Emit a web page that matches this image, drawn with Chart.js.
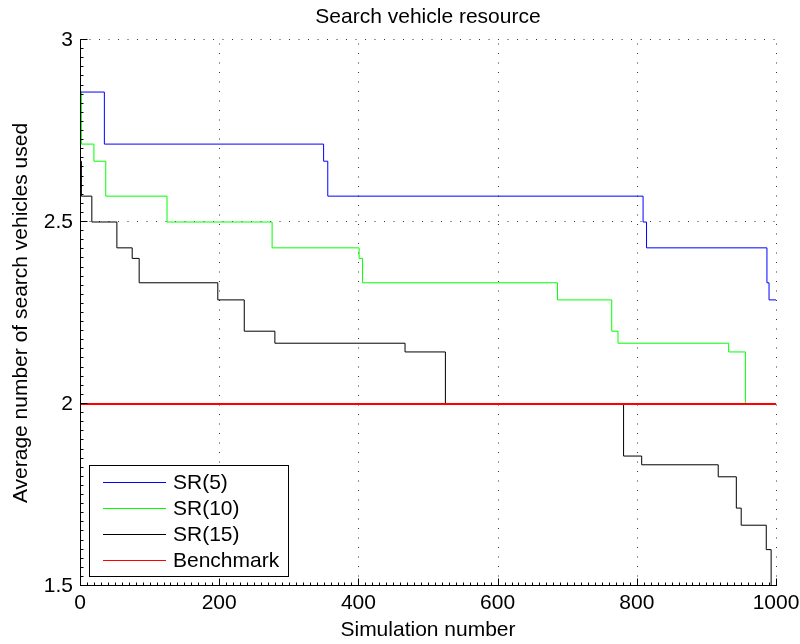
<!DOCTYPE html>
<html>
<head>
<meta charset="utf-8">
<script src="https://cdn.jsdelivr.net/npm/chart.js@4.4.1/dist/chart.umd.min.js"></script>
<style>
  html, body { margin: 0; padding: 0; background: #fff; }
  #wrap { width: 800px; height: 644px; }
</style>
</head>
<body>
<div id="wrap"><canvas id="c" width="800" height="644"></canvas></div>
<script>
// Tick labels
const xTicks = [0, 200, 400, 600, 800, 1000];
const yTicks = [1.5, 2, 2.5, 3];

// Step series: simulation number where the average changes, and the new average
const sr5Sim  = [0, 35, 350, 356, 809, 814, 987, 990, 1000];
const sr5Avg  = [2.857, 2.714, 2.667, 2.571, 2.5, 2.429, 2.333, 2.286, 2.286];

const sr10Sim = [0, 2, 20, 37, 125, 276, 401, 406, 686, 764, 773, 932, 956, 1000];
const sr10Avg = [2.857, 2.714, 2.667, 2.571, 2.5, 2.429, 2.4, 2.333, 2.286, 2.2, 2.167, 2.143, 2.0, 2.0];

const sr15Sim = [0, 2, 17, 53, 75, 85, 198, 236, 280, 467, 525, 781, 807, 917, 943, 950, 986, 993, 1000];
const sr15Avg = [2.667, 2.571, 2.5, 2.429, 2.4, 2.333, 2.286, 2.2, 2.167, 2.143, 2.0, 1.857, 1.833, 1.8, 1.714, 1.667, 1.6, 1.5, 1.5];

const benchSim = [0, 1000];
const benchAvg = [2, 2];

const seriesLabels = ['SR(5)', 'SR(10)', 'SR(15)', 'Benchmark'];

const FONT = "'Liberation Sans', Arial, Helvetica, sans-serif";
const pts = (xs, ys) => xs.map((x, i) => ({ x, y: ys[i] }));

// Dotted grid, inward ticks and the two solid axes
const framePlugin = {
  id: 'frame',
  beforeDatasetsDraw(chart) {
    const { ctx, chartArea: a, scales: { x, y } } = chart;
    ctx.save();
    ctx.strokeStyle = '#333';
    ctx.lineWidth = 1;
    ctx.setLineDash([1, 8.5]);
    xTicks.forEach(v => {
      const px = Math.round(x.getPixelForValue(v)) + 0.5;
      ctx.beginPath(); ctx.moveTo(px, a.bottom); ctx.lineTo(px, a.top); ctx.stroke();
    });
    yTicks.forEach(v => {
      const py = Math.round(y.getPixelForValue(v)) - 0.5;
      ctx.beginPath(); ctx.moveTo(a.left, py); ctx.lineTo(a.right, py); ctx.stroke();
    });
    ctx.restore();
  },
  afterDatasetsDraw(chart) {
    const { ctx, chartArea: a, scales: { x, y } } = chart;
    ctx.save();
    ctx.strokeStyle = '#000';
    ctx.lineWidth = 1;
    ctx.setLineDash([]);
    const left = Math.round(a.left) + 0.5;
    const bottom = Math.round(a.bottom) - 0.5;
    ctx.beginPath();
    ctx.moveTo(left, Math.round(a.top));
    ctx.lineTo(left, bottom);
    ctx.lineTo(Math.round(a.right) + 1, bottom);
    ctx.stroke();
    // minor ticks
    ctx.beginPath();
    for (let v = 0; v <= 1000; v += 10) {
      const px = Math.round(x.getPixelForValue(v)) + 0.5;
      ctx.moveTo(px, bottom); ctx.lineTo(px, bottom - 3);
    }
    for (let k = 0; k <= 60; k++) {
      const v = 1.5 + k * 0.025;
      const py = Math.round(y.getPixelForValue(v)) - 0.5;
      ctx.moveTo(left, py); ctx.lineTo(left + 3, py);
    }
    ctx.stroke();
    // major ticks
    ctx.beginPath();
    xTicks.forEach(v => {
      const px = Math.round(x.getPixelForValue(v)) + 0.5;
      ctx.moveTo(px, bottom); ctx.lineTo(px, bottom - 7);
    });
    yTicks.forEach(v => {
      const py = Math.round(y.getPixelForValue(v)) - 0.5;
      ctx.moveTo(left, py); ctx.lineTo(left + 7, py);
    });
    ctx.stroke();
    ctx.restore();
  }
};

// Boxed legend in the lower-left corner of the plot
const legendBoxPlugin = {
  id: 'legendBox',
  afterDraw(chart) {
    const { ctx } = chart;
    const bx = 89.5, by = 465.5, bw = 199, bh = 111;
    ctx.save();
    ctx.fillStyle = '#fff';
    ctx.fillRect(bx, by, bw, bh);
    ctx.strokeStyle = '#000';
    ctx.lineWidth = 1;
    ctx.strokeRect(bx, by, bw, bh);
    ctx.font = '21px ' + FONT;
    ctx.textBaseline = 'middle';
    ctx.textAlign = 'left';
    chart.data.datasets.forEach((ds, i) => {
      const ry = 482 + i * 26;
      ctx.strokeStyle = ds.borderColor;
      ctx.beginPath();
      ctx.moveTo(103, ry + 0.5);
      ctx.lineTo(166, ry + 0.5);
      ctx.stroke();
      ctx.fillStyle = '#000';
      ctx.fillText(ds.label, 173, ry + 1);
    });
    ctx.restore();
  }
};

Chart.defaults.font.family = FONT;
Chart.defaults.color = '#000';

new Chart(document.getElementById('c'), {
  type: 'line',
  data: {
    datasets: [
      { label: seriesLabels[0], data: pts(sr5Sim, sr5Avg), borderColor: '#0000ff', borderWidth: 1, stepped: 'before', pointRadius: 0, fill: false, order: 1 },
      { label: seriesLabels[1], data: pts(sr10Sim, sr10Avg), borderColor: '#00ff00', borderWidth: 1, stepped: 'before', pointRadius: 0, fill: false, order: 2 },
      { label: seriesLabels[2], data: pts(sr15Sim, sr15Avg), borderColor: '#000000', borderWidth: 1, stepped: 'before', pointRadius: 0, fill: false, order: 3 },
      { label: seriesLabels[3], data: pts(benchSim, benchAvg), borderColor: '#ff0000', borderWidth: 2, pointRadius: 0, fill: false, order: 0 }
    ]
  },
  options: {
    responsive: false,
    animation: false,
    devicePixelRatio: 1,
    layout: { padding: { left: 0, right: 24, top: 0, bottom: 0 } },
    plugins: {
      legend: { display: false },
      tooltip: { enabled: false },
      title: {
        display: true,
        text: 'Search vehicle resource',
        fullSize: false,
        color: '#000',
        font: { size: 21, weight: 'normal', family: FONT, lineHeight: 1.2 },
        padding: { top: 4.4, bottom: 10.4 }
      }
    },
    scales: {
      x: {
        type: 'linear',
        min: 0, max: 1000,
        afterBuildTicks: s => { s.ticks = xTicks.map(v => ({ value: v })); },
        afterFit: s => { s.height = 58; s.paddingLeft = 0; s.paddingRight = 0; },
        grid: { display: false, drawTicks: false },
        border: { display: false },
        ticks: { font: { size: 21, family: FONT }, padding: 5, maxRotation: 0, color: '#000', callback: v => String(v) },
        title: { display: true, text: 'Simulation number', font: { size: 21, family: FONT, lineHeight: 1.2 }, padding: { top: 0, bottom: 1 }, color: '#000' }
      },
      y: {
        type: 'linear',
        min: 1.5, max: 3,
        afterBuildTicks: s => { s.ticks = yTicks.map(v => ({ value: v })); },
        afterFit: s => { s.width = 80; s.paddingTop = 0; s.paddingBottom = 0; },
        grid: { display: false, drawTicks: false },
        border: { display: false },
        ticks: { font: { size: 21, family: FONT }, padding: 7, color: '#000', callback: v => String(v) },
        title: { display: true, text: 'Average number of search vehicles used', font: { size: 21, family: FONT, lineHeight: 1.2 }, padding: { top: 9, bottom: 0 }, color: '#000' }
      }
    }
  },
  plugins: [framePlugin, legendBoxPlugin]
});
</script>
</body>
</html>
